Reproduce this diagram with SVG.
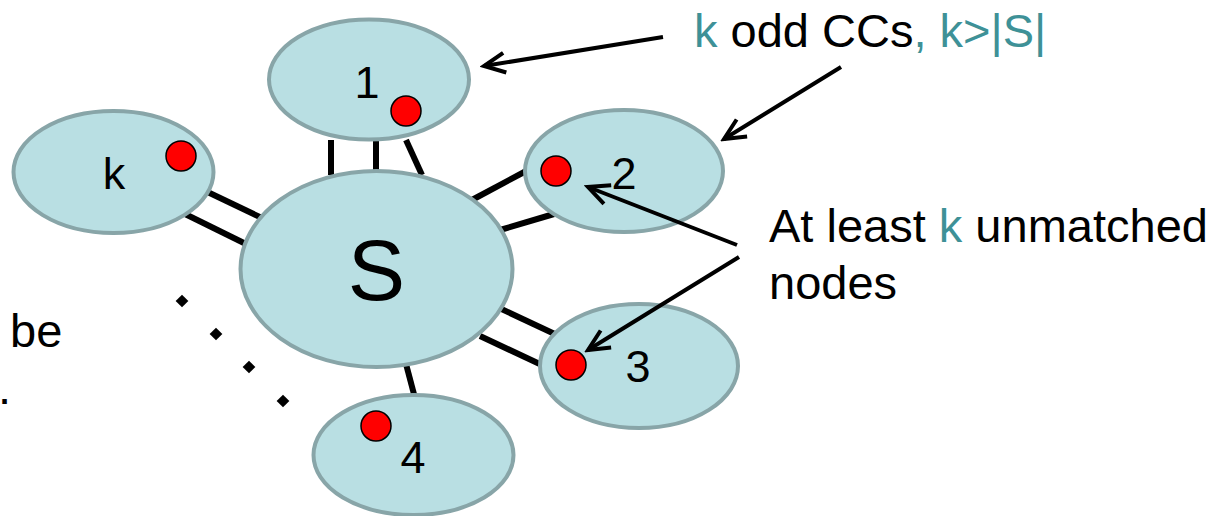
<svg xmlns="http://www.w3.org/2000/svg" width="1226" height="516" viewBox="0 0 1226 516">
  <style>
    .cc { fill: #B9DFE3; stroke: #88A5A8; stroke-width: 4; }
    .dot { fill: #FF0000; stroke: #000; stroke-width: 1.5; }
    .lbl { font-family: "Liberation Sans", Arial, sans-serif; fill: #000; text-anchor: middle; }
    .txt { font-family: "Liberation Sans", Arial, sans-serif; font-size: 47px; fill: #000; }
    .hl { fill: #3E9197; }
    .edge { stroke: #000; stroke-width: 6; fill: none; }
    .ptr { stroke: #000; stroke-width: 4; fill: none; marker-end: url(#open); }
  </style>
  <defs>
    <marker id="open" markerUnits="userSpaceOnUse" markerWidth="30" markerHeight="30" viewBox="-26 -15 30 30" refX="0" refY="0" orient="auto">
      <path d="M-21,-10 L0,0 L-21,10" fill="none" stroke="#000" stroke-width="4" stroke-linejoin="miter"/>
    </marker>
  </defs>

  <!-- edges between the components and S -->
  <g id="edges">
    <line class="edge" x1="331" y1="140" x2="331" y2="175"/>
    <line class="edge" x1="376" y1="140" x2="376" y2="175"/>
    <line class="edge" x1="406" y1="140" x2="422" y2="175"/>
    <line class="edge" x1="195" y1="186" x2="264" y2="219"/>
    <line class="edge" x1="181" y1="212" x2="250" y2="246"/>
    <line class="edge" x1="470" y1="201" x2="528" y2="170"/>
    <line class="edge" x1="500" y1="230" x2="554" y2="214"/>
    <line class="edge" x1="495" y1="306" x2="559" y2="336"/>
    <line class="edge" x1="480" y1="336" x2="544" y2="366"/>
    <line class="edge" x1="406" y1="364" x2="415" y2="398"/>
  </g>

  <g id="node-S">
    <ellipse class="cc" cx="376.5" cy="269" rx="136" ry="98"/>
    <text class="lbl" x="376.5" y="300" font-size="86">S</text>
  </g>
  <g id="node-1">
    <ellipse class="cc" cx="369" cy="79.5" rx="100" ry="60"/>
    <text class="lbl" x="367" y="98" font-size="45">1</text>
    <circle class="dot" cx="406" cy="111" r="15"/>
  </g>
  <g id="node-2">
    <ellipse class="cc" cx="624" cy="171" rx="99" ry="61"/>
    <text class="lbl" x="624" y="189" font-size="45">2</text>
    <circle class="dot" cx="556" cy="171" r="15"/>
  </g>
  <g id="node-3">
    <ellipse class="cc" cx="639" cy="366" rx="99" ry="62"/>
    <text class="lbl" x="638" y="382" font-size="45">3</text>
    <circle class="dot" cx="571" cy="365" r="15"/>
  </g>
  <g id="node-4">
    <ellipse class="cc" cx="413.5" cy="455" rx="100" ry="60"/>
    <text class="lbl" x="413" y="473" font-size="45">4</text>
    <circle class="dot" cx="376" cy="426" r="15"/>
  </g>
  <g id="node-k">
    <ellipse class="cc" cx="113.5" cy="172" rx="100" ry="61"/>
    <text class="lbl" x="114" y="189" font-size="45">k</text>
    <circle class="dot" cx="181" cy="156" r="15"/>
  </g>

  <!-- ellipsis between component k and component 4 -->
  <g id="ellipsis" fill="#000">
    <rect x="177.5" y="296.5" width="9" height="9" transform="rotate(45 182 301)"/>
    <rect x="211.5" y="329.5" width="9" height="9" transform="rotate(45 216 334)"/>
    <rect x="244.5" y="362.5" width="9" height="9" transform="rotate(45 249 367)"/>
    <rect x="278.5" y="396.5" width="9" height="9" transform="rotate(45 283 401)"/>
  </g>

  <!-- annotation arrows -->
  <g id="pointers">
    <line class="ptr" x1="663" y1="37" x2="484" y2="66"/>
    <line class="ptr" x1="841" y1="67" x2="724" y2="139"/>
    <line class="ptr" x1="737" y1="245" x2="588" y2="187"/>
    <line class="ptr" x1="739" y1="257" x2="588" y2="350"/>
  </g>

  <g id="annotations">
    <text class="txt" x="694" y="47"><tspan class="hl">k</tspan> odd CCs<tspan class="hl">, k&gt;|S|</tspan></text>
    <text class="txt" x="769" y="242">At least <tspan class="hl">k</tspan> unmatched</text>
    <text class="txt" x="769" y="299">nodes</text>
    <text class="txt" x="10" y="347">be</text>
    <text class="txt" x="-2" y="404">.</text>
  </g>
</svg>
